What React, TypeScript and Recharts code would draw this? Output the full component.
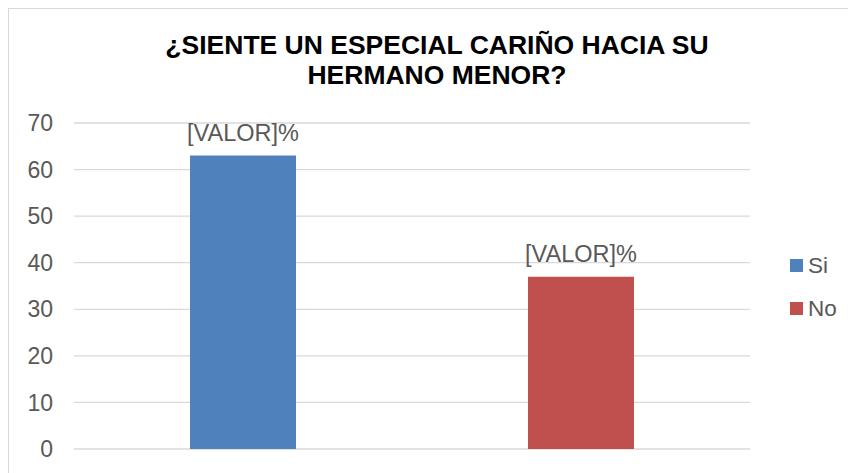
import { BarChart, Bar, XAxis, YAxis, CartesianGrid, LabelList, Cell } from "recharts";

const categories = ["Si", "No"];
const values = [63, 37];
const colors = ["#4F81BD", "#C0504D"];
const yTicks = [0, 10, 20, 30, 40, 50, 60, 70];
const titleLines = ["¿SIENTE UN ESPECIAL CARIÑO HACIA SU", "HERMANO MENOR?"];

const FONT = '"Liberation Sans", Arial, sans-serif';

const data = categories.map((name, i) => ({ name, value: values[i] }));

// legend drawn outside the svg so it doesn't eat plot space
function LegendBox() {
  return (
    <div
      style={{
        position: "absolute",
        left: 782,
        top: 236,
        fontFamily: FONT,
        fontSize: 22.5,
        color: "#595959",
      }}
    >
      {categories.map((c, i) => (
        <div key={c} style={{ display: "flex", alignItems: "center", height: 43 }}>
          <span style={{ width: 13, height: 13, background: colors[i], marginRight: 5, display: "inline-block" }} />
          <span>{c}</span>
        </div>
      ))}
    </div>
  );
}

export default function App() {
  return (
    <div style={{ position: "relative", width: 848, height: 465, background: "#fff", fontFamily: FONT }}>
      <div
        style={{
          position: "absolute",
          inset: 0,
          borderTop: "1px solid #d9d9d9",
          borderLeft: "1px solid #d9d9d9",
          pointerEvents: "none",
        }}
      />
      <div
        style={{
          position: "absolute",
          left: 5,
          top: 22,
          width: 848,
          textAlign: "center",
          fontSize: 26.5,
          lineHeight: "30px",
          fontWeight: "bold",
          color: "#000",
        }}
      >
        {titleLines.map((t) => (
          <div key={t}>{t}</div>
        ))}
      </div>
      <BarChart
        width={848}
        height={465}
        data={data}
        margin={{ top: 115, right: 106, bottom: 24, left: 0 }}
        barSize={106}
      >
        <CartesianGrid vertical={false} stroke="#d9d9d9" strokeWidth={1.3} />
        <XAxis dataKey="name" hide />
        <YAxis
          width={66}
          domain={[0, 70]}
          ticks={yTicks}
          axisLine={false}
          tickLine={false}
          tickSize={0}
          tickMargin={21}
          tick={{ fill: "#595959", fontSize: 23, fontFamily: FONT }}
        />
        <Bar dataKey="value" isAnimationActive={false}>
          {data.map((d, i) => (
            <Cell key={d.name} fill={colors[i]} />
          ))}
          <LabelList
            dataKey="value"
            position="top"
            offset={15}
            formatter={() => "[VALOR]%"}
            style={{ fill: "#595959", fontSize: 23.5, fontFamily: FONT }}
          />
        </Bar>
      </BarChart>
      <LegendBox />
    </div>
  );
}
